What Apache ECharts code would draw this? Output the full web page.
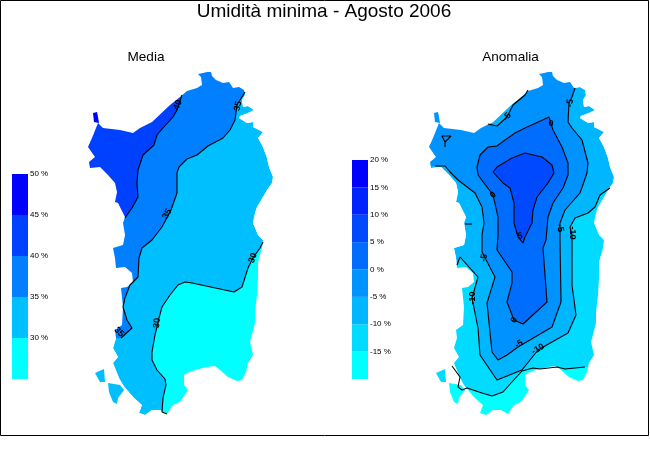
<!DOCTYPE html>
<html><head><meta charset="utf-8">
<style>html,body{margin:0;padding:0;background:#fff}#c{width:650px;height:450px}</style>
<script src="https://cdn.jsdelivr.net/npm/echarts@6/dist/echarts.min.js"></script>
</head><body><div id="c"></div>
<script>
// Map outline and islands, in map units
const coast=[[207,72],[211,72],[212,76],[216,80],[223,83],[229,82],[233,88],[239,87],[244,90],[245,95],[242,100],[243,107],[248,106],[254,110],[248,113],[240,116],[239,118],[247,123],[253,122],[253,127],[257,129],[263,132],[258,138],[263,147],[267,158],[269,167],[273,177],[272,183],[267,190],[263,197],[257,207],[255,213],[253,223],[258,235],[263,240],[262,248],[258,262],[258,278],[257,295],[255,312],[255,323],[250,342],[253,355],[248,363],[246,372],[242,380],[237,381],[228,377],[220,370],[215,366],[207,367],[195,370],[187,373],[184,375],[184,385],[188,390],[180,402],[173,405],[167,414],[160,410],[152,410],[145,415],[139,413],[142,405],[134,398],[127,390],[123,385],[119,378],[115,368],[113,363],[118,357],[113,348],[116,338],[115,330],[122,325],[123,307],[121,288],[127,287],[133,282],[132,273],[125,267],[116,268],[115,258],[113,248],[123,245],[125,235],[123,223],[125,217],[118,203],[115,202],[117,192],[115,183],[108,175],[100,167],[90,168],[89,162],[95,157],[88,147],[92,138],[96,128],[98,123],[103,128],[120,130],[133,133],[140,128],[152,122],[170,105],[180,97],[187,91],[197,88],[202,85],[201,77],[198,74],[203,73]];
const asinara=[[93,113],[97,112],[98,117],[99,123],[94,122]];
const sanPietro=[[95,373],[104,369],[105,382],[100,382]];
const santAntioco=[[108,383],[120,385],[124,390],[118,398],[117,404],[113,402],[109,392]];

// Media: contours (percent)
const media40=[[182,95],[177,110],[173,117],[163,128],[157,135],[154,145],[143,155],[138,170],[137,183],[138,197],[132,208],[125,218]];
const media35=[[245,92],[237,105],[235,120],[230,130],[223,138],[208,146],[197,155],[187,159],[179,167],[177,173],[177,193],[171,210],[162,227],[152,240],[142,248],[139,258],[138,277],[130,285],[125,298],[123,307],[127,320],[132,328],[121,338]];
const media30=[[263,242],[260,248],[253,258],[248,268],[242,287],[234,292],[192,283],[185,282],[178,285],[170,295],[162,307],[159,318],[155,335],[152,352],[152,360],[157,370],[165,379],[166,385],[163,398],[162,412],[167,414]];
const mediaLabels=[[178,105,'40',70],[238,106,'35',80],[167,214,'35',60],[253,258,'30',70],[157,323,'30',85],[119,332,'35',-45]];

// Anomalia: contours (percent)
const anom15=[[111,366],[119,377],[117,387],[121,390],[126,388],[141,393],[151,396],[162,392],[171,382],[181,371],[192,368],[199,369],[216,367],[224,369],[244,367]];
const anom10=[[269,188],[259,195],[254,207],[247,213],[234,218],[229,227],[231,235],[231,285],[235,315],[227,333],[211,342],[197,350],[181,370],[156,380],[139,355],[137,328],[131,298],[137,277],[119,257],[116,265]];
const anom5=[[234,88],[231,97],[228,103],[227,122],[231,128],[241,140],[247,163],[246,173],[239,193],[224,210],[219,223],[219,240],[220,302],[211,327],[177,347],[166,355],[157,360],[151,352],[146,303],[154,277],[141,252],[141,235],[143,223],[141,207],[134,193],[117,180],[109,172],[104,166],[94,166]];
const anom5North=[[147,124],[156,126],[166,117],[172,105],[184,95],[187,90]];
const anom0=[[208,117],[212,130],[221,147],[227,163],[227,175],[222,188],[212,203],[207,217],[205,240],[202,248],[204,275],[206,302],[182,324],[173,320],[166,302],[171,283],[171,272],[156,250],[157,235],[157,217],[152,195],[137,175],[136,167],[139,155],[147,147],[156,146],[164,140],[174,133],[184,128],[208,117]];
const anomPlus5=[[152,172],[156,167],[171,158],[184,153],[201,157],[211,165],[213,173],[207,183],[196,197],[192,210],[191,223],[184,237],[182,243],[177,237],[173,223],[173,203],[169,188],[162,183],[152,172]];
const anomMark=[[104,147],[104,142],[101,136],[110,136],[104,142]];
const anomDash=[[124,224],[131,224]];
const anomLabels=[[166,117,'-5',50],[229,103,'-5',85],[210,124,'0',0],[152,195,'0',40],[179,236,'5',10],[219,228,'-5',-80],[231,233,'-10',-90],[143,258,'-5',80],[132,298,'-10',90],[173,320,'0',60],[178,344,'-5',30],[197,349,'-10',30]];

// Colour scales
const mediaBands=[[25,30],[30,35],[35,40],[40,45],[45,50]];
const mediaColors=['#00ffff','#00bfff','#0080ff','#0040ff','#0000ff'];
const anomBands=[[-20,-15],[-15,-10],[-10,-5],[-5,0],[0,5],[5,10],[10,15],[15,20]];
const anomColors=['#00ffff','#00dbff','#00b6ff','#0092ff','#006dff','#0049ff','#0024ff','#0000ff'];

// Off-map closure helpers for the filled bands (hidden later by the sea mask)
const W=75,E=290,N=65,S=425;
const sea=[[207,63],[291,63],[291,426],[74,426],[74,63],[207,63]].concat(coast.concat([coast[0]]).reverse());

function poly(ring,color,panel,z){
  return {type:'custom',coordinateSystem:'cartesian2d',xAxisIndex:panel,yAxisIndex:panel,z:z,silent:true,clip:false,
    data:ring,encode:{x:0,y:1},
    renderItem:(p,api)=>p.dataIndex===0?{type:'polygon',shape:{points:ring.map(q=>api.coord(q))},style:{fill:color}}:null};
}
function line(pts,panel){
  return {type:'line',xAxisIndex:panel,yAxisIndex:panel,z:20,silent:true,showSymbol:false,symbol:'none',clip:false,
    data:pts,lineStyle:{color:'#000',width:1.1},itemStyle:{color:'#000'}};
}
function labels(rows,panel){
  return {type:'custom',coordinateSystem:'cartesian2d',xAxisIndex:panel,yAxisIndex:panel,z:30,silent:true,clip:false,
    data:rows,encode:{x:0,y:1},
    renderItem:(p,api)=>{const r=rows[p.dataIndex],c=api.coord([r[0],r[1]]);
      return {type:'text',x:c[0],y:c[1],rotation:r[3]*Math.PI/180,
        style:{text:r[2],fill:'#000',font:'bold 9px "Liberation Sans"',align:'center',verticalAlign:'middle'}};}};
}
function legend(bands,colors,panel){
  return {type:'custom',coordinateSystem:'cartesian2d',xAxisIndex:panel,yAxisIndex:panel,silent:true,
    data:bands.map(b=>[0,b[0],b[1]]),encode:{x:0,y:[1,2]},
    renderItem:(p,api)=>{const a=api.coord([0,api.value(2)]),b=api.coord([1,api.value(1)]);
      return {type:'rect',shape:{x:a[0],y:a[1],width:b[0]-a[0],height:b[1]-a[1]},style:{fill:colors[p.dataIndex]}};}};
}
const hiddenX=(g,min,max)=>({gridIndex:g,type:'value',min,max,show:false});
const mapY=g=>({gridIndex:g,type:'value',min:0,max:436,inverse:true,show:false});
const legY=(g,min,max)=>({gridIndex:g,type:'value',min,max,interval:5,position:'right',
  axisLine:{show:false},axisTick:{show:false},splitLine:{show:false},
  axisLabel:{margin:2,fontSize:8,color:'#000',fontFamily:'Liberation Sans',
    formatter:v=>v===min?'':v+' %'}});

const chart=echarts.init(document.getElementById('c'),null,{renderer:'canvas'});
chart.setOption({
  animation:false,backgroundColor:'#fff',
  title:[
    {text:'Umidità minima - Agosto 2006',left:324,top:2,padding:0,z:50,textAlign:'center',textStyle:{fontFamily:'Liberation Sans',fontWeight:'normal',fontSize:19,color:'#000'}},
    {text:'Media',left:146,top:50,padding:0,z:50,textAlign:'center',textStyle:{fontFamily:'Liberation Sans',fontWeight:'normal',fontSize:13.6,color:'#000'}},
    {text:'Anomalia',left:510.5,top:50,padding:0,z:50,textAlign:'center',textStyle:{fontFamily:'Liberation Sans',fontWeight:'normal',fontSize:13.6,color:'#000'}}
  ],
  graphic:[{type:'rect',z:100,silent:true,shape:{x:0.5,y:0.5,width:648,height:435},style:{fill:'none',stroke:'#000',lineWidth:1}}],
  grid:[
    {left:0,top:0,width:325,height:436},
    {left:341,top:0,width:309,height:436},
    {left:12,top:174,width:16,height:205},
    {left:352,top:160,width:16,height:219}
  ],
  xAxis:[hiddenX(0,0,325),hiddenX(1,0,309),hiddenX(2,0,1),hiddenX(3,0,1)],
  yAxis:[mapY(0),mapY(1),legY(2,25,50),legY(3,-20,20)],
  series:[
    // Media
    poly(coast,mediaColors[1],0,1),
    poly(media30.concat([[167,S],[E,S],[E,242]]),mediaColors[0],0,2),
    poly(media35.concat([[W,340],[W,N],[245,N]]),mediaColors[2],0,3),
    poly(media40.concat([[W,218],[W,N],[182,N]]),mediaColors[3],0,4),
    poly(sea,'#fff',0,8),
    poly(asinara,mediaColors[4],0,9),
    poly(sanPietro,mediaColors[1],0,9),
    poly(santAntioco,mediaColors[1],0,9),
    line(media40,0),line(media35,0),line(media30,0),
    labels(mediaLabels,0),
    // Anomalia
    poly(coast,anomColors[2],1,1),
    poly(anom10.concat([[W,265],[W,S],[E,S],[E,188]]),anomColors[1],1,2),
    poly(anom15.concat([[E,367],[E,S],[W,S],[W,366]]),anomColors[0],1,3),
    poly(anom5.concat([[W,166],[W,90]],anom5North,[[187,N],[234,N]]),anomColors[3],1,4),
    poly(anom0,anomColors[4],1,5),
    poly(anomPlus5,anomColors[5],1,6),
    poly(sea,'#fff',1,8),
    poly(asinara,anomColors[3],1,9),
    poly(sanPietro,anomColors[1],1,9),
    poly(santAntioco,anomColors[0],1,9),
    line(anom15,1),line(anom10,1),line(anom5,1),line(anom5North,1),line(anom0,1),line(anomPlus5,1),line(anomMark,1),line(anomDash,1),
    labels(anomLabels,1),
    // Colour scales
    legend(mediaBands,mediaColors,2),
    legend(anomBands,anomColors,3)
  ]
});
</script></body></html>
